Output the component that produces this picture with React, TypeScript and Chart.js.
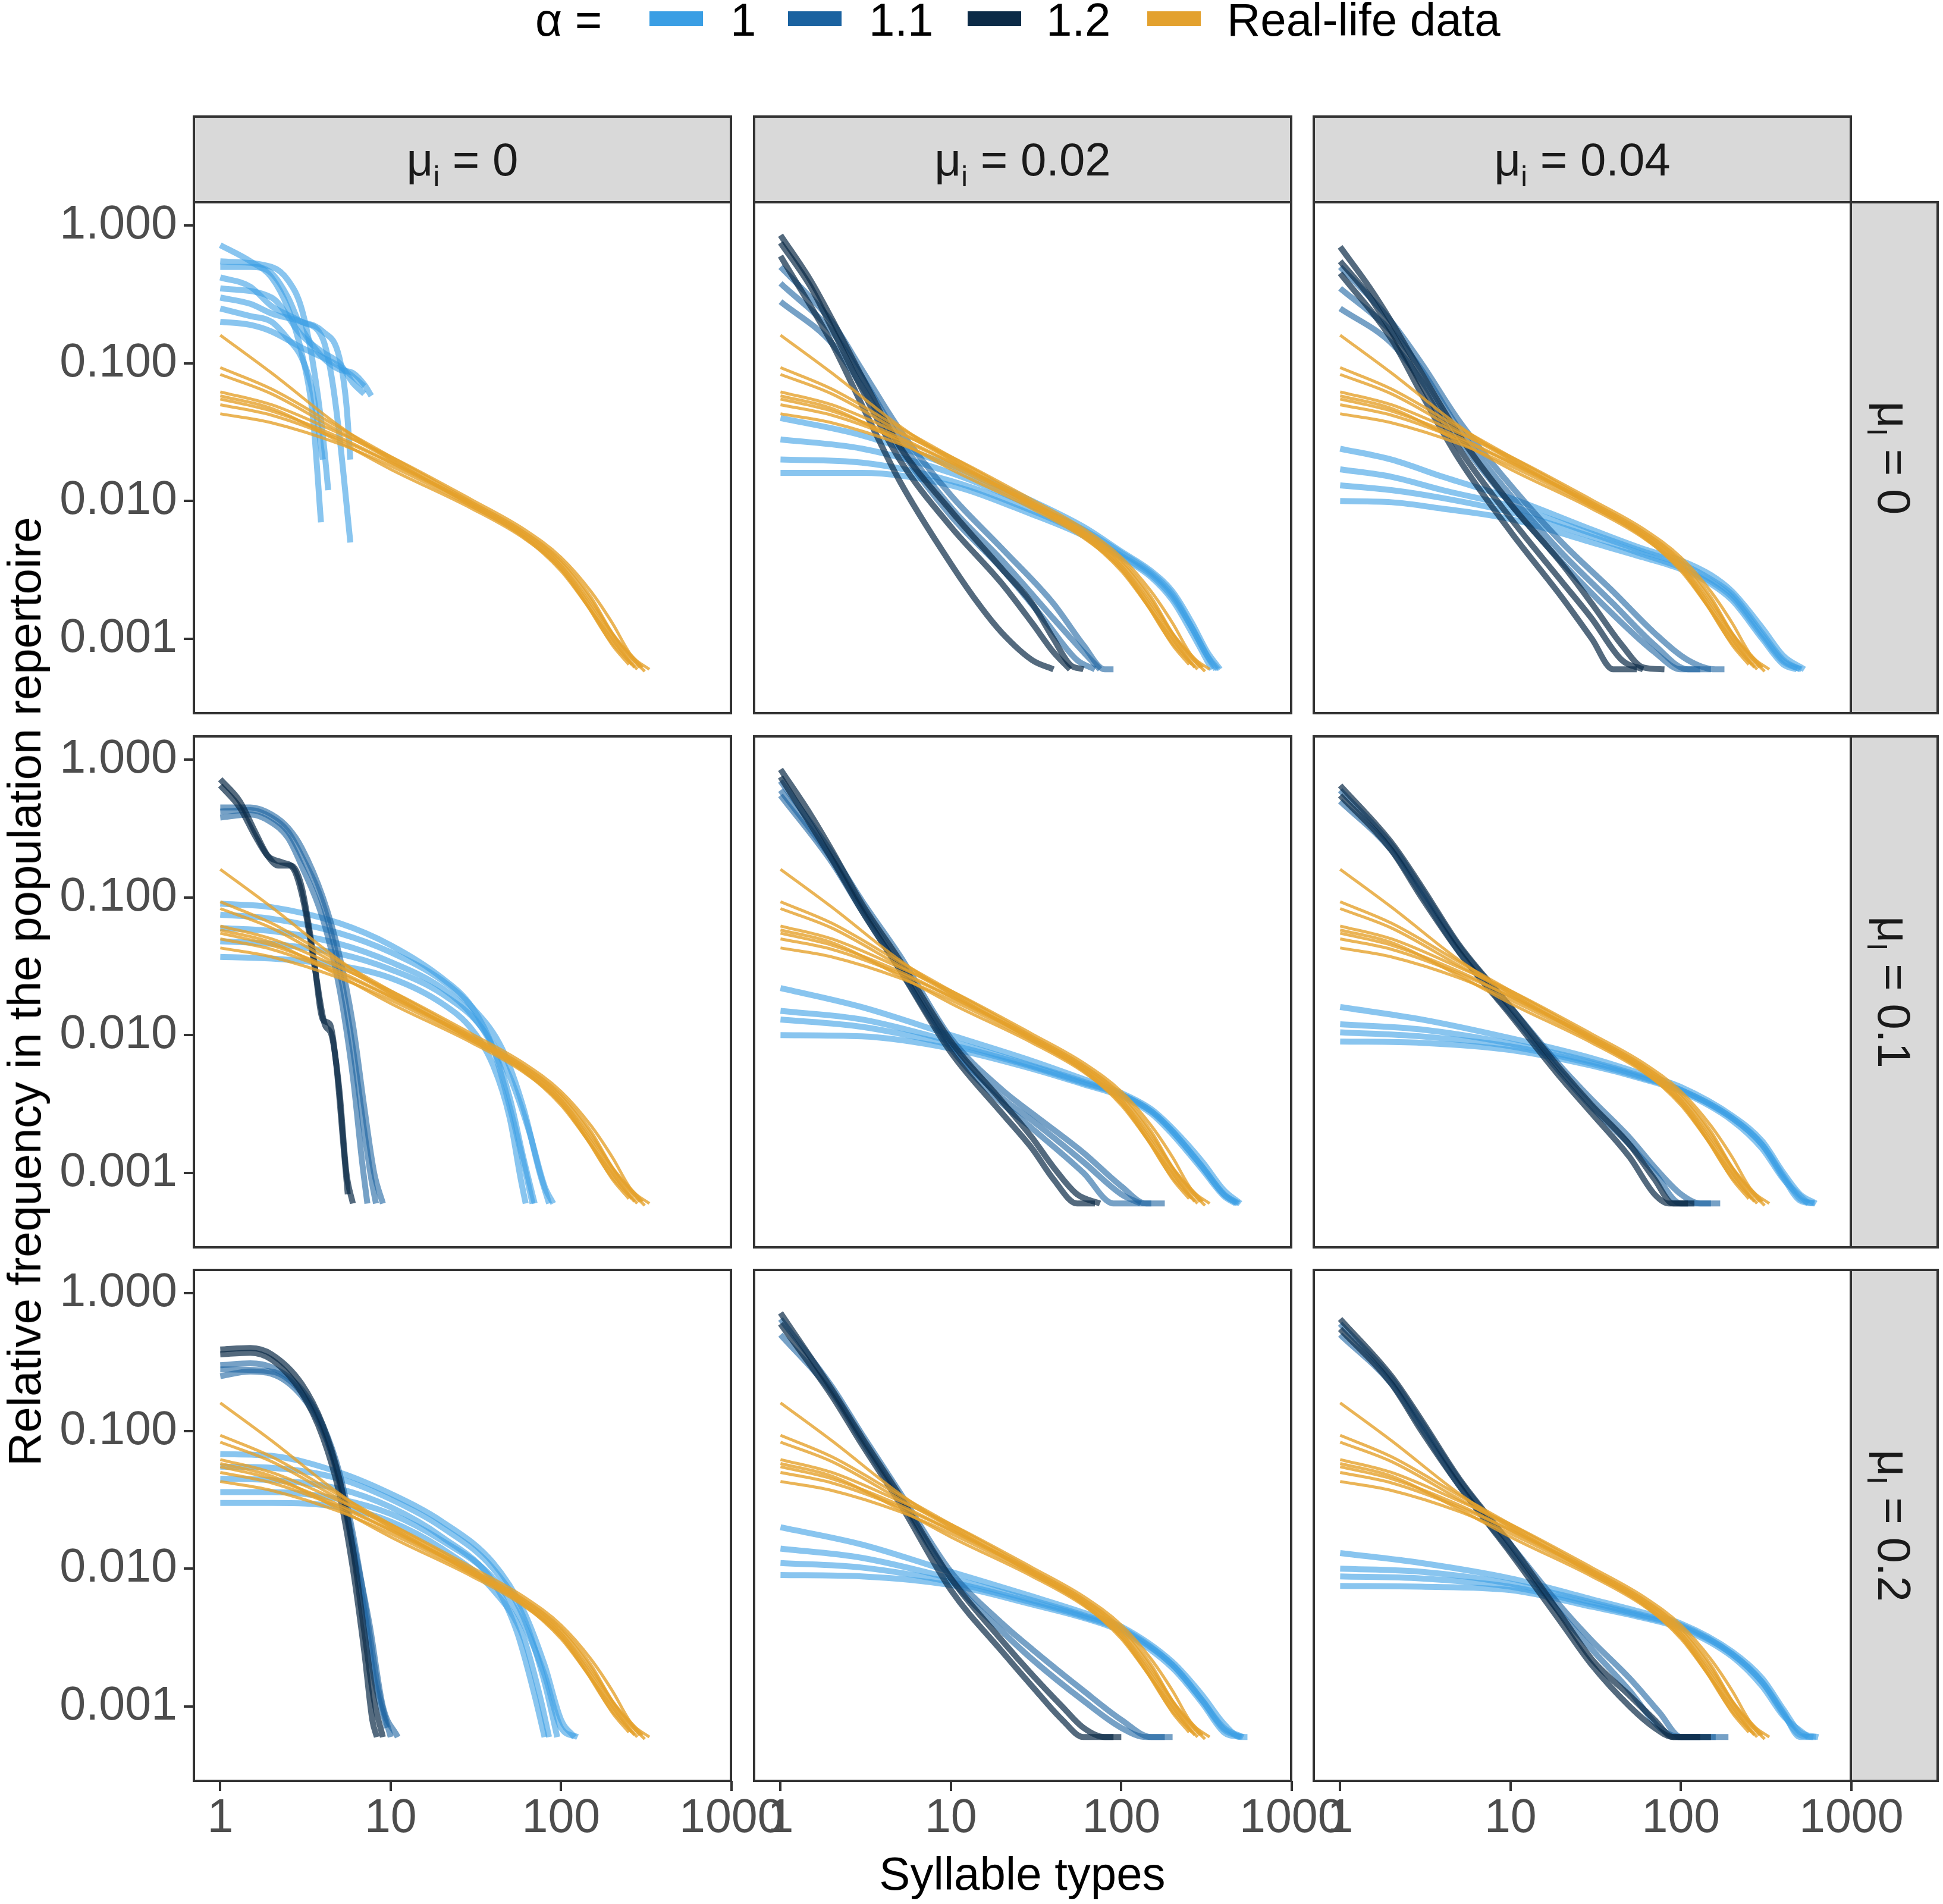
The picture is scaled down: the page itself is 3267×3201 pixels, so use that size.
import { useEffect, useRef } from "react";
import { Chart, registerables } from "chart.js";

Chart.register(...registerables);

type Line = [number, number][];

// axis ticks and facet labels
const xTicks = [1, 10, 100, 1000];
const yTicks = [0.001, 0.01, 0.1, 1];
const colMu = ["0", "0.02", "0.04"]; // mu_i
const rowMu = ["0", "0.1", "0.2"]; // mu_I
const legendLabels = ["1", "1.1", "1.2", "Real-life data"];

// real-life data, same in every panel
const realLife: Line[] = [
  [[1, 0.16], [2, 0.085], [5, 0.035], [10, 0.02], [30, 0.0095], [60, 0.0058], [100, 0.0034], [150, 0.0017], [200, 0.001], [260, 0.00065]],
  [[1, 0.093], [2, 0.065], [5, 0.034], [10, 0.021], [30, 0.0098], [60, 0.006], [100, 0.0037], [150, 0.002], [200, 0.0011], [300, 0.00062]],
  [[1, 0.083], [2, 0.06], [5, 0.032], [10, 0.02], [30, 0.0092], [60, 0.0055], [100, 0.0031], [150, 0.0016], [220, 0.00085], [280, 0.0006]],
  [[1, 0.062], [2, 0.05], [5, 0.031], [10, 0.021], [30, 0.0102], [60, 0.0063], [100, 0.0039], [150, 0.0022], [200, 0.0013], [260, 0.00075], [330, 0.0006]],
  [[1, 0.055], [2, 0.045], [5, 0.029], [10, 0.019], [30, 0.0094], [60, 0.0057], [100, 0.0034], [160, 0.0016], [240, 0.0008], [310, 0.00058]],
  [[1, 0.05], [2, 0.042], [5, 0.028], [10, 0.019], [30, 0.0097], [60, 0.006], [100, 0.0036], [150, 0.0019], [210, 0.001], [290, 0.00062]],
  [[1, 0.043], [2, 0.037], [5, 0.026], [10, 0.018], [30, 0.0091], [60, 0.0056], [100, 0.0032], [150, 0.0016], [200, 0.0009], [250, 0.00065]],
  [[1, 0.058], [2, 0.047], [5, 0.027], [10, 0.017], [30, 0.0088], [60, 0.0054], [100, 0.0032], [140, 0.0018], [190, 0.001], [270, 0.00062]],
];

// row 1: mu_I = 0
const r1c1A1: Line[] = [
  [[1, 0.72], [1.5, 0.55], [2, 0.42], [2.5, 0.25], [3, 0.12], [3.5, 0.04], [3.9, 0.007]],
  [[1, 0.5], [1.5, 0.5], [2, 0.45], [2.5, 0.3], [3, 0.18], [4, 0.11], [5, 0.09], [6, 0.085], [7, 0.07], [7.7, 0.058]],
  [[1, 0.42], [1.5, 0.36], [2, 0.26], [3, 0.2], [4, 0.15], [4.5, 0.08], [5, 0.03], [5.8, 0.005]],
  [[1, 0.3], [1.5, 0.27], [2, 0.23], [3, 0.2], [4, 0.17], [5, 0.11], [5.5, 0.05], [5.8, 0.02]],
  [[1, 0.25], [1.5, 0.22], [2, 0.2], [2.5, 0.15], [3, 0.11], [3.5, 0.06], [4, 0.02]],
  [[1, 0.2], [1.5, 0.19], [2, 0.17], [3, 0.13], [4, 0.11], [5, 0.095], [6, 0.08], [7, 0.068]],
  [[1, 0.55], [2, 0.5], [2.5, 0.4], [3, 0.25], [3.5, 0.1], [4, 0.03], [4.3, 0.012]],
  [[1, 0.35], [2, 0.3], [3, 0.16], [4, 0.12], [5, 0.1], [6, 0.072], [7, 0.06]],
];

const r1c2A1: Line[] = [
  [[1, 0.04], [3, 0.03], [10, 0.018], [30, 0.01], [60, 0.0065], [100, 0.0043], [150, 0.0031], [200, 0.0022], [260, 0.0013], [320, 0.0008], [380, 0.0006]],
  [[1, 0.028], [3, 0.024], [10, 0.016], [30, 0.0092], [60, 0.0062], [100, 0.0042], [150, 0.003], [200, 0.0021], [260, 0.0012], [320, 0.00075], [370, 0.0006]],
  [[1, 0.02], [3, 0.019], [10, 0.014], [30, 0.0085], [60, 0.0058], [100, 0.004], [150, 0.0029], [200, 0.002], [260, 0.0012], [330, 0.0007], [360, 0.0006]],
  [[1, 0.016], [3, 0.016], [10, 0.013], [30, 0.008], [60, 0.0056], [100, 0.0039], [150, 0.0028], [200, 0.0019], [260, 0.0011], [340, 0.0006]],
];
const r1c2A11: Line[] = [
  [[1, 0.5], [1.5, 0.3], [2, 0.2], [3, 0.09], [5, 0.033], [10, 0.011], [20, 0.0045], [40, 0.0018], [60, 0.0009], [80, 0.0006], [90, 0.0006]],
  [[1, 0.38], [2, 0.17], [3, 0.08], [5, 0.028], [10, 0.009], [20, 0.0037], [40, 0.0014], [60, 0.0008], [75, 0.0006]],
  [[1, 0.28], [2, 0.14], [3, 0.068], [5, 0.024], [10, 0.0078], [20, 0.0032], [35, 0.0014], [55, 0.0007], [70, 0.0006]],
];
const r1c2A12: Line[] = [
  [[1, 0.85], [1.5, 0.4], [2, 0.21], [3, 0.08], [5, 0.025], [10, 0.0085], [20, 0.0032], [30, 0.0018], [40, 0.001], [50, 0.00065], [60, 0.0006]],
  [[1, 0.75], [1.5, 0.36], [2, 0.18], [3, 0.065], [5, 0.02], [10, 0.0065], [20, 0.0025], [30, 0.0013], [40, 0.0008], [50, 0.0006]],
  [[1, 0.6], [2, 0.14], [3, 0.05], [5, 0.014], [10, 0.0035], [15, 0.0017], [20, 0.0011], [30, 0.0007], [40, 0.0006]],
];

const r1c3A1: Line[] = [
  [[1, 0.024], [2, 0.02], [4, 0.015], [10, 0.0105], [30, 0.0062], [60, 0.0045], [100, 0.0037], [150, 0.0029], [200, 0.0022], [300, 0.0012], [400, 0.00075], [530, 0.0006]],
  [[1, 0.017], [2, 0.015], [4, 0.012], [10, 0.0092], [30, 0.0058], [60, 0.0043], [100, 0.0035], [150, 0.0027], [200, 0.0021], [300, 0.0011], [400, 0.0007], [500, 0.0006]],
  [[1, 0.013], [2, 0.012], [4, 0.0105], [10, 0.0083], [30, 0.0055], [60, 0.0041], [100, 0.0033], [150, 0.0026], [200, 0.002], [300, 0.00105], [400, 0.00068], [510, 0.0006]],
  [[1, 0.01], [2, 0.0098], [4, 0.0088], [10, 0.0074], [30, 0.005], [60, 0.0039], [100, 0.0032], [150, 0.0025], [200, 0.0019], [300, 0.001], [400, 0.00065], [480, 0.0006]],
];
const r1c3A11: Line[] = [
  [[1, 0.5], [1.5, 0.3], [2, 0.2], [3, 0.1], [5, 0.038], [10, 0.013], [20, 0.005], [40, 0.0022], [70, 0.0011], [110, 0.0007], [160, 0.0006], [180, 0.0006]],
  [[1, 0.35], [2, 0.17], [3, 0.09], [5, 0.033], [10, 0.011], [20, 0.0042], [40, 0.0018], [70, 0.0009], [110, 0.0006], [150, 0.0006]],
  [[1, 0.25], [2, 0.14], [3, 0.075], [5, 0.028], [10, 0.0095], [20, 0.0036], [40, 0.0015], [70, 0.0008], [100, 0.0006], [130, 0.0006]],
];
const r1c3A12: Line[] = [
  [[1, 0.7], [1.5, 0.35], [2, 0.2], [3, 0.085], [5, 0.03], [10, 0.0095], [20, 0.0035], [30, 0.0018], [45, 0.0009], [60, 0.00062], [80, 0.0006]],
  [[1, 0.55], [1.5, 0.3], [2, 0.17], [3, 0.07], [5, 0.024], [10, 0.0075], [20, 0.0026], [30, 0.0014], [45, 0.0007], [60, 0.0006]],
  [[1, 0.45], [2, 0.15], [3, 0.06], [5, 0.02], [10, 0.006], [20, 0.002], [30, 0.001], [40, 0.0006], [55, 0.0006]],
];

// row 2: mu_I = 0.1
const r2c1A1: Line[] = [
  [[1, 0.09], [2, 0.085], [5, 0.065], [10, 0.045], [20, 0.026], [30, 0.016], [40, 0.008], [50, 0.003], [60, 0.0012], [68, 0.0006]],
  [[1, 0.075], [2, 0.07], [5, 0.055], [10, 0.04], [20, 0.025], [30, 0.016], [45, 0.008], [60, 0.003], [75, 0.001], [85, 0.0006]],
  [[1, 0.06], [2, 0.057], [5, 0.046], [10, 0.034], [20, 0.022], [30, 0.014], [40, 0.008], [50, 0.0035], [60, 0.0013], [70, 0.0006]],
  [[1, 0.048], [2, 0.046], [5, 0.039], [10, 0.03], [20, 0.02], [35, 0.011], [50, 0.005], [65, 0.002], [80, 0.0008], [90, 0.0006]],
  [[1, 0.037], [2, 0.036], [5, 0.032], [10, 0.026], [20, 0.017], [30, 0.011], [40, 0.006], [50, 0.0025], [58, 0.0009], [62, 0.0006]],
];
const r2c1A11: Line[] = [
  [[1, 0.42], [1.5, 0.43], [2, 0.38], [2.5, 0.3], [3, 0.2], [4, 0.09], [5, 0.03], [6, 0.008], [7, 0.002], [7.7, 0.0009], [8.2, 0.0006]],
  [[1, 0.38], [1.5, 0.4], [2, 0.35], [2.5, 0.27], [3, 0.17], [4, 0.07], [5, 0.022], [6, 0.005], [6.8, 0.0012], [7.3, 0.0006]],
  [[1, 0.45], [1.5, 0.45], [2, 0.4], [2.5, 0.32], [3, 0.23], [4, 0.1], [5, 0.038], [6, 0.012], [7, 0.003], [8, 0.001], [9, 0.0006]],
];
const r2c1A12: Line[] = [
  [[1, 0.72], [1.3, 0.5], [1.6, 0.3], [1.9, 0.2], [2.2, 0.17], [2.6, 0.17], [3, 0.12], [3.5, 0.04], [4, 0.013], [4.4, 0.012], [4.8, 0.006], [5.3, 0.0015], [5.6, 0.0007]],
  [[1, 0.65], [1.3, 0.45], [1.6, 0.28], [1.9, 0.2], [2.3, 0.18], [2.7, 0.16], [3.1, 0.09], [3.6, 0.03], [4.1, 0.012], [4.5, 0.01], [5, 0.004], [5.5, 0.001], [6, 0.0006]],
];

const r2c2A1: Line[] = [
  [[1, 0.022], [3, 0.016], [10, 0.01], [30, 0.0065], [60, 0.0048], [100, 0.0038], [150, 0.0029], [200, 0.0021], [300, 0.0012], [400, 0.00075], [500, 0.0006]],
  [[1, 0.015], [3, 0.013], [10, 0.009], [30, 0.006], [60, 0.0046], [100, 0.0037], [150, 0.0028], [200, 0.002], [300, 0.0011], [400, 0.0007], [480, 0.0006]],
  [[1, 0.013], [3, 0.0115], [10, 0.0085], [30, 0.0059], [60, 0.0045], [100, 0.0037], [150, 0.0028], [200, 0.002], [300, 0.0011], [400, 0.0007], [490, 0.0006]],
  [[1, 0.01], [3, 0.0098], [10, 0.008], [30, 0.0057], [60, 0.0044], [100, 0.0036], [150, 0.0027], [200, 0.0019], [300, 0.00105], [400, 0.00068], [470, 0.0006]],
];
const r2c2A11: Line[] = [
  [[1, 0.7], [2, 0.21], [3, 0.095], [5, 0.038], [10, 0.0095], [20, 0.004], [30, 0.0027], [60, 0.0014], [100, 0.0008], [140, 0.0006], [180, 0.0006]],
  [[1, 0.6], [2, 0.19], [3, 0.085], [5, 0.032], [10, 0.0085], [20, 0.0035], [30, 0.0024], [60, 0.0012], [100, 0.0007], [130, 0.0006]],
  [[1, 0.55], [2, 0.18], [3, 0.08], [5, 0.03], [10, 0.008], [20, 0.0032], [30, 0.0021], [60, 0.001], [90, 0.0006], [150, 0.0006]],
];
const r2c2A12: Line[] = [
  [[1, 0.85], [1.5, 0.4], [2, 0.22], [3, 0.09], [5, 0.035], [10, 0.009], [20, 0.0033], [30, 0.0018], [40, 0.0011], [55, 0.0007], [75, 0.0006]],
  [[1, 0.75], [2, 0.19], [3, 0.08], [5, 0.03], [10, 0.0075], [20, 0.0027], [30, 0.0015], [40, 0.0009], [55, 0.0006], [70, 0.0006]],
];

const r2c3A1: Line[] = [
  [[1, 0.016], [3, 0.013], [10, 0.0095], [30, 0.0068], [60, 0.0052], [100, 0.0042], [200, 0.0026], [300, 0.0017], [400, 0.001], [500, 0.0007], [620, 0.0006]],
  [[1, 0.012], [3, 0.011], [10, 0.0087], [30, 0.0064], [60, 0.005], [100, 0.004], [200, 0.0025], [300, 0.0016], [400, 0.00095], [500, 0.00065], [600, 0.0006]],
  [[1, 0.0105], [3, 0.0098], [10, 0.0083], [30, 0.0062], [60, 0.0049], [100, 0.004], [200, 0.0025], [300, 0.0016], [400, 0.00092], [500, 0.00063], [610, 0.0006]],
  [[1, 0.009], [3, 0.0088], [10, 0.0078], [30, 0.006], [60, 0.0048], [100, 0.0039], [200, 0.0024], [300, 0.0015], [400, 0.0009], [560, 0.0006]],
];
const r2c3A11: Line[] = [
  [[1, 0.6], [2, 0.24], [3, 0.115], [5, 0.044], [10, 0.016], [20, 0.0058], [30, 0.0034], [50, 0.0018], [70, 0.0011], [100, 0.0007], [130, 0.0006], [170, 0.0006]],
  [[1, 0.5], [2, 0.22], [3, 0.105], [5, 0.04], [10, 0.0145], [20, 0.0052], [30, 0.003], [50, 0.0016], [70, 0.001], [100, 0.0006], [150, 0.0006]],
];
const r2c3A12: Line[] = [
  [[1, 0.65], [2, 0.25], [3, 0.12], [5, 0.045], [10, 0.016], [20, 0.0055], [30, 0.0031], [50, 0.0016], [70, 0.0009], [90, 0.0006], [120, 0.0006]],
  [[1, 0.55], [2, 0.22], [3, 0.1], [5, 0.04], [10, 0.014], [20, 0.0048], [30, 0.0027], [50, 0.0013], [70, 0.0007], [85, 0.0006], [110, 0.0006]],
];

// row 3: mu_I = 0.2
const r3c1A1: Line[] = [
  [[1, 0.068], [2, 0.066], [5, 0.05], [10, 0.035], [20, 0.022], [40, 0.011], [60, 0.005], [80, 0.002], [100, 0.0008], [120, 0.0006]],
  [[1, 0.055], [2, 0.054], [5, 0.045], [10, 0.032], [20, 0.02], [40, 0.01], [60, 0.0045], [80, 0.0015], [95, 0.0006]],
  [[1, 0.045], [2, 0.044], [5, 0.038], [10, 0.028], [20, 0.017], [40, 0.008], [55, 0.0035], [70, 0.0012], [80, 0.0006]],
  [[1, 0.036], [2, 0.036], [5, 0.032], [10, 0.025], [20, 0.016], [40, 0.0085], [60, 0.004], [80, 0.0017], [100, 0.0007], [125, 0.0006]],
  [[1, 0.03], [2, 0.03], [5, 0.028], [10, 0.022], [20, 0.014], [40, 0.007], [60, 0.0032], [75, 0.0012], [85, 0.0006]],
];
const r3c1A11: Line[] = [
  [[1, 0.3], [1.5, 0.31], [2, 0.29], [3, 0.2], [4, 0.11], [5, 0.05], [6, 0.018], [7, 0.006], [8.5, 0.0013], [10, 0.0006]],
  [[1, 0.25], [1.5, 0.27], [2, 0.26], [3, 0.18], [4, 0.1], [5, 0.045], [6, 0.016], [7.5, 0.004], [9, 0.001], [11, 0.0006]],
  [[1, 0.28], [2, 0.27], [3, 0.19], [4, 0.105], [5, 0.042], [6, 0.014], [7, 0.005], [8, 0.0016], [9.5, 0.0007]],
];
const r3c1A12: Line[] = [
  [[1, 0.39], [1.5, 0.4], [2, 0.36], [3, 0.22], [4, 0.11], [5, 0.045], [6, 0.014], [7, 0.0035], [8, 0.0011], [9, 0.0006]],
  [[1, 0.36], [1.5, 0.37], [2, 0.33], [3, 0.19], [4, 0.09], [5, 0.035], [6, 0.01], [7, 0.0025], [7.8, 0.0008], [8.3, 0.0006]],
];

const r3c2A1: Line[] = [
  [[1, 0.02], [3, 0.015], [10, 0.0095], [30, 0.0063], [60, 0.0048], [100, 0.0038], [200, 0.0021], [300, 0.0012], [400, 0.00075], [500, 0.0006], [550, 0.0006]],
  [[1, 0.014], [3, 0.012], [10, 0.0085], [30, 0.0059], [60, 0.0046], [100, 0.0037], [200, 0.002], [300, 0.0011], [400, 0.0007], [520, 0.0006]],
  [[1, 0.011], [3, 0.0102], [10, 0.008], [30, 0.0057], [60, 0.0045], [100, 0.0036], [200, 0.002], [300, 0.0011], [400, 0.00068], [510, 0.0006]],
  [[1, 0.009], [3, 0.0088], [10, 0.0076], [30, 0.0055], [60, 0.0044], [100, 0.0035], [200, 0.0019], [300, 0.00105], [400, 0.00065], [500, 0.0006]],
];
const r3c2A11: Line[] = [
  [[1, 0.65], [2, 0.21], [3, 0.095], [5, 0.036], [10, 0.0095], [20, 0.004], [30, 0.0026], [60, 0.0013], [100, 0.0008], [150, 0.0006], [200, 0.0006]],
  [[1, 0.5], [2, 0.19], [3, 0.085], [5, 0.032], [10, 0.0085], [20, 0.0035], [30, 0.0022], [60, 0.0011], [100, 0.0007], [140, 0.0006], [180, 0.0006]],
];
const r3c2A12: Line[] = [
  [[1, 0.72], [2, 0.2], [3, 0.09], [5, 0.034], [10, 0.0085], [20, 0.003], [30, 0.0017], [45, 0.001], [60, 0.0007], [80, 0.0006], [100, 0.0006]],
  [[1, 0.6], [2, 0.18], [3, 0.08], [5, 0.03], [10, 0.007], [20, 0.0025], [30, 0.0014], [45, 0.0008], [60, 0.0006], [90, 0.0006]],
];

const r3c3A1: Line[] = [
  [[1, 0.013], [3, 0.011], [10, 0.0085], [30, 0.006], [60, 0.0048], [100, 0.004], [200, 0.0025], [300, 0.0016], [400, 0.00095], [500, 0.00065], [640, 0.0006]],
  [[1, 0.01], [3, 0.0095], [10, 0.0078], [30, 0.0057], [60, 0.0046], [100, 0.0039], [200, 0.0024], [300, 0.0015], [400, 0.0009], [500, 0.0006], [620, 0.0006]],
  [[1, 0.0088], [3, 0.0085], [10, 0.0074], [30, 0.0055], [60, 0.0045], [100, 0.0038], [200, 0.0024], [300, 0.0015], [400, 0.00088], [500, 0.00062], [600, 0.0006]],
  [[1, 0.0075], [3, 0.0074], [10, 0.007], [30, 0.0053], [60, 0.0044], [100, 0.0037], [200, 0.0023], [300, 0.0014], [400, 0.00085], [560, 0.0006]],
];
const r3c3A11: Line[] = [
  [[1, 0.6], [2, 0.24], [3, 0.115], [5, 0.044], [10, 0.015], [20, 0.0052], [30, 0.003], [50, 0.0016], [75, 0.0009], [100, 0.0006], [190, 0.0006]],
  [[1, 0.5], [2, 0.22], [3, 0.105], [5, 0.04], [10, 0.0135], [20, 0.0046], [30, 0.0026], [50, 0.0013], [75, 0.0007], [100, 0.0006], [160, 0.0006]],
];
const r3c3A12: Line[] = [
  [[1, 0.65], [2, 0.25], [3, 0.12], [5, 0.045], [10, 0.015], [20, 0.0045], [30, 0.0022], [50, 0.0012], [70, 0.0008], [90, 0.0006], [150, 0.0006]],
  [[1, 0.55], [2, 0.22], [3, 0.1], [5, 0.04], [10, 0.013], [20, 0.004], [30, 0.002], [50, 0.001], [70, 0.0007], [90, 0.0006], [130, 0.0006]],
];

// [alpha=1, alpha=1.1, alpha=1.2] per panel, rows then columns
const facetLines: Line[][][][] = [
  [[r1c1A1, [], []], [r1c2A1, r1c2A11, r1c2A12], [r1c3A1, r1c3A11, r1c3A12]],
  [[r2c1A1, r2c1A11, r2c1A12], [r2c2A1, r2c2A11, r2c2A12], [r2c3A1, r2c3A11, r2c3A12]],
  [[r3c1A1, r3c1A11, r3c1A12], [r3c2A1, r3c2A11, r3c2A12], [r3c3A1, r3c3A11, r3c3A12]],
];

const ALPHA_RGB = ["58,158,228", "26,98,160", "12,43,71"];
const REAL_RGB = "229,161,44";
const KEY_COLORS = ["#3A9EE4", "#1A62A0", "#0C2B47", "#E3A12E"];
const FRAME = "#333333";
const TICK_TEXT = "#4D4D4D";
const FONT = "'Liberation Sans', Arial, sans-serif";

// layout (page pixels)
const COL_L = [326, 1268, 2209];
const ROW_T = [340, 1238, 2135];
const PW = 903;
const PH = 859;
const PAD_L = 60;
const PAD_R = 110;
const PAD_T = 80;
const PAD_B = 80;
const AX_H = 130;

const X_MIN = Math.pow(10, -0.14);
const X_MAX = Math.pow(10, 2.997);
const Y_MIN = Math.pow(10, -3.54);
const Y_MAX = Math.pow(10, 0.169);

const framePlugin = {
  id: "frame",
  afterDatasetsDraw(chart: Chart) {
    const { ctx, chartArea: a } = chart;
    ctx.save();
    ctx.strokeStyle = FRAME;
    ctx.lineWidth = 4;
    ctx.strokeRect(a.left, a.top, a.right - a.left, a.bottom - a.top);
    ctx.restore();
  },
};

function toDataset(line: Line, rgb: string, alpha: number, width: number) {
  return {
    data: line.map(([x, y]) => ({ x, y })),
    borderColor: `rgba(${rgb},${alpha})`,
    borderWidth: width,
    pointRadius: 0,
    fill: false,
    cubicInterpolationMode: "monotone" as const,
  };
}

function Panel({ r, c }: { r: number; c: number }) {
  const canvasRef = useRef<HTMLCanvasElement>(null);
  const isLeft = c === 0;
  const isBottom = r === 2;
  const left = isLeft ? 0 : COL_L[c] - PAD_L;
  const top = ROW_T[r] - PAD_T;
  const width = COL_L[c] + PW + PAD_R - left;
  const height = PAD_T + PH + (isBottom ? AX_H : PAD_B);

  useEffect(() => {
    if (!canvasRef.current) return;
    const [a1, a11, a12] = facetLines[r][c];
    // first dataset is drawn on top
    const datasets = [
      ...realLife.map((l) => toDataset(l, REAL_RGB, 0.8, 5)),
      ...a12.map((l) => toDataset(l, ALPHA_RGB[2], 0.7, 10)),
      ...a11.map((l) => toDataset(l, ALPHA_RGB[1], 0.6, 10)),
      ...a1.map((l) => toDataset(l, ALPHA_RGB[0], 0.6, 10)),
    ];

    const gridOpts = {
      drawOnChartArea: false,
      drawTicks: true,
      tickLength: 17,
      tickWidth: 4,
      tickColor: FRAME,
      lineWidth: 4,
      color: FRAME,
    };

    const chart = new Chart(canvasRef.current, {
      type: "line",
      data: { datasets },
      options: {
        animation: false,
        responsive: false,
        devicePixelRatio: 1,
        layout: {
          padding: { left: isLeft ? 0 : PAD_L, right: PAD_R, top: PAD_T, bottom: isBottom ? 0 : PAD_B },
        },
        plugins: { legend: { display: false }, tooltip: { enabled: false } },
        scales: {
          x: {
            type: "logarithmic",
            min: X_MIN,
            max: X_MAX,
            display: isBottom,
            afterFit: (s: any) => {
              if (isBottom) s.height = AX_H;
            },
            afterBuildTicks: (s: any) => {
              s.ticks = xTicks.map((v) => ({ value: v }));
            },
            ticks: {
              callback: (v: any) => String(v),
              autoSkip: false,
              maxRotation: 0,
              minRotation: 0,
              padding: 0,
              color: TICK_TEXT,
              font: { family: FONT, size: 79 },
            },
            grid: gridOpts,
            border: { display: false },
          },
          y: {
            type: "logarithmic",
            min: Y_MIN,
            max: Y_MAX,
            display: isLeft,
            afterFit: (s: any) => {
              if (isLeft) s.width = COL_L[0];
            },
            afterBuildTicks: (s: any) => {
              s.ticks = yTicks.map((v) => ({ value: v }));
            },
            ticks: {
              callback: (v: any) => Number(v).toFixed(3),
              autoSkip: false,
              padding: 11,
              color: TICK_TEXT,
              font: { family: FONT, size: 79 },
            },
            grid: gridOpts,
            border: { display: false },
          },
        },
      },
      plugins: [framePlugin],
    });

    return () => {
      chart.destroy();
    };
  }, [r, c]);

  return (
    <canvas
      ref={canvasRef}
      width={width}
      height={height}
      style={{ position: "absolute", left, top, width, height }}
    />
  );
}

function MuLabel({ sub, value }: { sub: string; value: string }) {
  return (
    <span style={{ whiteSpace: "nowrap" }}>
      μ
      <span style={{ fontSize: "0.62em", position: "relative", top: "0.38em" }}>{sub}</span>
      {" = "}
      {value}
    </span>
  );
}

const textBase = {
  position: "absolute" as const,
  fontFamily: FONT,
  fontSize: 78,
  lineHeight: 1,
  whiteSpace: "nowrap" as const,
};

export default function App() {
  const rows = [0, 1, 2];
  const cols = [0, 1, 2];
  return (
    <div
      style={{
        position: "absolute",
        left: 0,
        top: 0,
        width: 3267,
        height: 3201,
        background: "#ffffff",
        overflow: "hidden",
      }}
    >
      {/* legend */}
      <div style={{ ...textBase, left: 900, top: -6, color: "#000" }}>α =</div>
      {legendLabels.map((lab, i) => (
        <div key={lab}>
          <div
            style={{
              position: "absolute",
              left: [1092, 1325, 1627, 1929][i],
              top: 19,
              width: 90,
              height: 25,
              background: KEY_COLORS[i],
            }}
          />
          <div style={{ ...textBase, left: [1228, 1461, 1759, 2063][i], top: -6, color: "#000" }}>{lab}</div>
        </div>
      ))}

      {/* top strips */}
      {cols.map((c) => (
        <div
          key={"ts" + c}
          style={{
            position: "absolute",
            boxSizing: "border-box",
            left: COL_L[c] - 2,
            top: 194,
            width: PW + 4,
            height: ROW_T[0] + 2 - 194,
            background: "#D9D9D9",
            border: `4px solid ${FRAME}`,
            display: "flex",
            alignItems: "center",
            justifyContent: "center",
            fontFamily: FONT,
            fontSize: 78,
            color: "#1A1A1A",
          }}
        >
          <MuLabel sub="i" value={colMu[c]} />
        </div>
      ))}

      {/* right strips */}
      {rows.map((r) => (
        <div
          key={"rs" + r}
          style={{
            position: "absolute",
            boxSizing: "border-box",
            left: COL_L[2] + PW - 2,
            top: ROW_T[r] - 2,
            width: 3260 - (COL_L[2] + PW - 2),
            height: PH + 4,
            background: "#D9D9D9",
            border: `4px solid ${FRAME}`,
            fontFamily: FONT,
            fontSize: 78,
            color: "#1A1A1A",
          }}
        >
          <div
            style={{
              position: "absolute",
              left: "50%",
              top: "50%",
              transform: "translate(-50%, -50%) rotate(90deg)",
              lineHeight: 1,
            }}
          >
            <MuLabel sub="I" value={rowMu[r]} />
          </div>
        </div>
      ))}

      {/* panels */}
      {rows.map((r) => cols.map((c) => <Panel key={`p${r}${c}`} r={r} c={c} />))}

      {/* axis titles */}
      <div
        style={{
          ...textBase,
          left: (COL_L[0] + COL_L[2] + PW) / 2,
          top: 3111,
          transform: "translateX(-50%)",
          color: "#000",
        }}
      >
        Syllable types
      </div>
      <div
        style={{
          ...textBase,
          left: 41,
          top: (ROW_T[0] + ROW_T[2] + PH) / 2,
          transform: "translate(-50%, -50%) rotate(-90deg)",
          color: "#000",
        }}
      >
        Relative frequency in the population repertoire
      </div>
    </div>
  );
}
